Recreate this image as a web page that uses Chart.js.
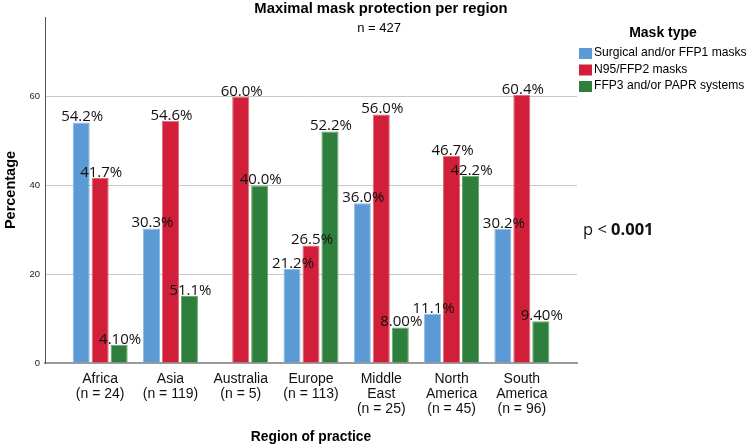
<!DOCTYPE html>
<html>
<head>
<meta charset="utf-8">
<script src="https://cdn.jsdelivr.net/npm/chart.js@4.4.1/dist/chart.umd.min.js"></script>
<style>
  html, body { margin: 0; padding: 0; background: #fff; }
  #wrap { width: 750px; height: 447px; position: relative; }
</style>
</head>
<body>
<div id="wrap"><canvas id="c" width="750" height="447"></canvas></div>
<script>
// ---- data ----
const categories = [
  ["Africa", "(n = 24)"],
  ["Asia", "(n = 119)"],
  ["Australia", "(n = 5)"],
  ["Europe", "(n = 113)"],
  ["Middle", "East", "(n = 25)"],
  ["North", "America", "(n = 45)"],
  ["South", "America", "(n = 96)"]
];
const seriesNames = ["Surgical and/or FFP1 masks", "N95/FFP2 masks", "FFP3 and/or PAPR systems"];
const surgicalValues = [54.2, 30.3, 0, 21.2, 36.0, 11.1, 30.2];
const n95Values = [41.7, 54.6, 60.0, 26.5, 56.0, 46.7, 60.4];
const ffp3Values = [4.1, 15.1, 40.0, 52.2, 8.0, 42.2, 9.4];
const surgicalLabels = ["54.2%", "30.3%", "", "21.2%", "36.0%", "11.1%", "30.2%"];
const n95Labels = ["41.7%", "54.6%", "60.0%", "26.5%", "56.0%", "46.7%", "60.4%"];
const ffp3Labels = ["4.10%", "51.1%", "40.0%", "52.2%", "8.00%", "42.2%", "9.40%"];
const yTicks = [0, 20, 40, 60];
const titleText = "Maximal mask protection per region";
const subtitleText = "n = 427";
const legendTitle = "Mask type";
const pPrefix = "p < ";
const pValue = "0.001";
const xTitle = "Region of practice";
const yTitle = "Percentage";

const colors = ["#5b9ad5", "#d11f3a", "#2f7f3c"];
const borders = ["#8fbbe6", "#e26a7c", "#6aa573"];
const labelSets = [surgicalLabels, n95Labels, ffp3Labels];

const overlay = {
  id: "overlay",
  afterDatasetsDraw(chart) {
    const ctx = chart.ctx;
    ctx.save();
    ctx.fillStyle = "#111";
    ctx.font = "15px 'Open Sans', sans-serif";
    ctx.textAlign = "center";
    ctx.textBaseline = "bottom";
    chart.data.datasets.forEach((ds, i) => {
      const meta = chart.getDatasetMeta(i);
      meta.data.forEach((bar, j) => {
        const t = labelSets[i][j];
        if (!t) return;
        ctx.fillText(t, bar.x + 1, bar.y + 2);
      });
    });
    ctx.restore();
  },
  afterDraw(chart) {
    const ctx = chart.ctx;
    ctx.save();
    ctx.fillStyle = "#000";
    ctx.textAlign = "center";
    ctx.textBaseline = "middle";
    ctx.font = "bold 14.8px 'Liberation Sans', Arial, sans-serif";
    ctx.fillText(titleText, 381, 9);
    ctx.font = "13px 'Liberation Sans', Arial, sans-serif";
    ctx.fillText(subtitleText, 379, 28);

    // legend
    ctx.font = "bold 14px 'Liberation Sans', Arial, sans-serif";
    ctx.fillText(legendTitle, 663, 33);
    ctx.textAlign = "left";
    ctx.font = "12.1px 'Liberation Sans', Arial, sans-serif";
    const ys = [53, 69.5, 86];
    chart.data.datasets.forEach((ds, i) => {
      ctx.fillStyle = colors[i];
      ctx.fillRect(579, ys[i] - 5, 13, 11);
      ctx.fillStyle = "#000";
      ctx.fillText(ds.label, 594, ys[i]);
    });

    // p-value
    ctx.font = "16.5px 'Open Sans', sans-serif";
    ctx.fillStyle = "#111";
    ctx.fillText(pPrefix, 583, 230);
    const w = ctx.measureText(pPrefix).width;
    ctx.font = "bold 16.5px 'Open Sans', sans-serif";
    ctx.fillText(pValue, 583 + w, 230);
    ctx.restore();
  }
};

// extra margin (in category units) between the y axis / right edge and the first / last group
const edgeMargin = 0.285;

new Chart(document.getElementById("c"), {
  type: "bar",
  data: {
    labels: categories,
    datasets: [
      { label: seriesNames[0], data: surgicalValues, backgroundColor: colors[0], borderColor: borders[0], borderWidth: 1 },
      { label: seriesNames[1], data: n95Values, backgroundColor: colors[1], borderColor: borders[1], borderWidth: 1 },
      { label: seriesNames[2], data: ffp3Values, backgroundColor: colors[2], borderColor: borders[2], borderWidth: 1 }
    ]
  },
  options: {
    responsive: false,
    animation: false,
    devicePixelRatio: 1,
    layout: { padding: { top: 17, right: 173, left: 0, bottom: 0 } },
    datasets: { bar: { categoryPercentage: 0.81, barPercentage: 0.9 } },
    plugins: {
      legend: { display: false },
      title: { display: false },
      tooltip: { enabled: false }
    },
    scales: {
      x: {
        offset: true,
        grid: { display: false, drawTicks: false },
        border: { display: true, color: "#9a9a9a", width: 2 },
        ticks: {
          color: "#111",
          font: { family: "'Liberation Sans', Arial, sans-serif", size: 14, lineHeight: 1.07 },
          padding: 9,
          maxRotation: 0,
          autoSkip: false
        },
        afterBuildTicks(s) {
          s._startValue = -0.5 - edgeMargin;
          s._valueRange = categories.length + 2 * edgeMargin;
        },
        title: {
          display: true,
          text: xTitle,
          color: "#000",
          font: { family: "'Liberation Sans', Arial, sans-serif", size: 13.8, weight: "bold" },
          padding: { top: 0, bottom: 2 }
        },
        afterFit(s) { s.height = 84; }
      },
      y: {
        min: 0,
        max: 78,
        ticks: {
          stepSize: 20,
          color: "#222",
          font: { family: "'Liberation Sans', Arial, sans-serif", size: 9.5 },
          padding: 5
        },
        afterBuildTicks(s) {
          s.ticks = yTicks.map(v => ({ value: v }));
        },
        grid: { color: "#c8c8c8", lineWidth: 1, drawTicks: false },
        border: { display: true, color: "#555", width: 1 },
        title: {
          display: true,
          text: yTitle,
          color: "#000",
          font: { family: "'Liberation Sans', Arial, sans-serif", size: 14.5, weight: "bold" },
          padding: { top: 2, bottom: 0 }
        },
        afterFit(s) { s.width = 45; }
      }
    }
  },
  plugins: [overlay]
});
</script>
</body>
</html>
